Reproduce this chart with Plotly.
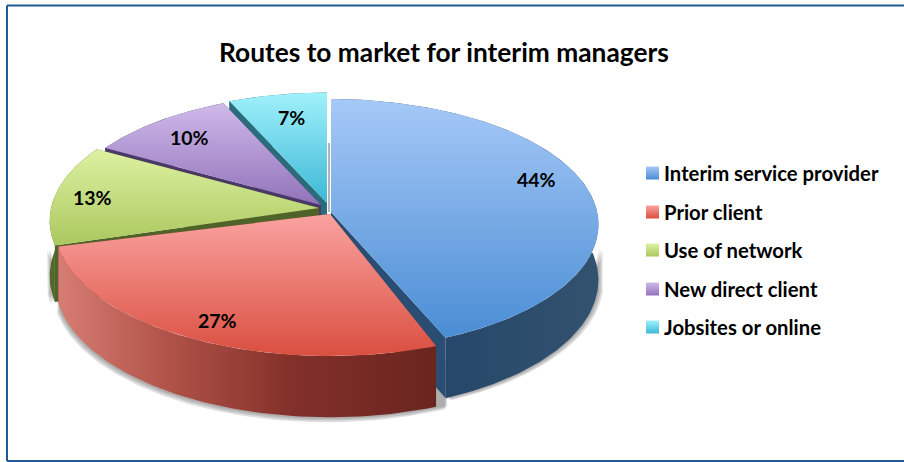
import math

import plotly.graph_objects as go

# --- data ---
categories = ["Interim service provider", "Prior client", "Use of network",
              "New direct client", "Jobsites or online"]
shares = [43.6, 26.7, 12.9, 10.1, 6.7]
title = "Routes to market for interim managers"

# --- look of the tilted pie, in page pixels ---
RX, RY, TILT, DEPTH = 268, 125, 0.10, 55
APEX = [(331, 212), (330, 214), (319, 208), (321, 205), (327, 203)]
SCALE = [0.993, 1.02, 1.0, 0.97, 0.97]
TURN = [0, 2.5, 0, 0, 0]
LABEL_POS = [(536, 179), (217, 320), (92, 197), (189, 137), (291, 117)]
LEGEND_Y = [173, 212, 250, 289, 327]
# gradient stops run bottom to top because the y axis is reversed
TOP = [("#4A8DD4", "#A6C9F7"), ("#DA4F40", "#FAA3A0"), ("#ABC85E", "#DDF1A2"),
       ("#9272BA", "#CFBAEA"), ("#3DB8D6", "#A0F1FB")]
SIDE = [
    [[0, "#1E3F66"], [1, "#33526F"]],
    [[0, "#D67D73"], [0.28, "#B2544A"], [0.62, "#823029"], [1, "#6A251F"]],
    [[0, "#55682A"], [1, "#4C5E24"]],
    [[0, "#4A3866"], [1, "#4A3866"]],
    [[0, "#2A6C7C"], [1, "#2A6C7C"]],
]
WALL = ["#2A4E73", "#8A3A32", "#4F6227", "#4A3866", "#2A6C7C"]


def project(i, angle, radius=1.0, z=0.0):
    u = radius * SCALE[i] * math.sin(math.radians(angle))
    v = radius * SCALE[i] * math.cos(math.radians(angle))
    d = 1 + TILT * v
    return APEX[i][0] + RX * u / d, APEX[i][1] - RY * v / d + DEPTH * z / d


def arc(i, a0, a1, z=0.0):
    n = max(int(abs(a1 - a0)), 2)
    pts = [project(i, a0 + (a1 - a0) * k / n, z=z) for k in range(n + 1)]
    return [p[0] for p in pts], [p[1] for p in pts]


def poly(xs, ys, colorscale=None, orientation="vertical", color=None):
    kw = dict(x=xs, y=ys, mode="lines", fill="toself", line=dict(width=0),
              hoverinfo="skip", showlegend=False)
    if colorscale:
        kw["fillgradient"] = dict(type=orientation, colorscale=colorscale)
    else:
        kw["fillcolor"] = color
    return go.Scatter(**kw)


total = sum(shares)
edges = [0]
for s in shares:
    edges.append(edges[-1] + s / total * 360)

fig = go.Figure()

# soft drop shadow below the rim of the front slices
for i, a0, a1, dx, dy in [(0, 100, edges[1], 5, 2), (1, edges[1], edges[2], -3, 5),
                          (2, edges[2], edges[2] + 5, -4, 2)]:
    for step in (1.0, 0.66, 0.33):
        xs, ys = arc(i, a0, a1, z=0.25)
        xb, yb = arc(i, a1, a0, z=1)
        fig.add_trace(poly([x + dx * step for x in xs + xb],
                           [y + dy * step for y in ys + yb],
                           color="rgba(90,90,90,0.20)"))

# thin grey seam left of the blue slice
fig.add_trace(go.Scatter(x=[329, 329], y=[143, 212], mode="lines",
                         line=dict(color="#B4B4B4", width=2),
                         hoverinfo="skip", showlegend=False))

# back to front, each slice drawn walls, rim, then top
for i in [4, 3, 2, 0, 1]:
    a0, a1 = edges[i] + TURN[i], edges[i + 1] + TURN[i]
    apex = APEX[i]
    for a in (a0, a1):
        rim = project(i, a)
        rim_low = project(i, a, z=1)
        low = project(i, 0, radius=0, z=1)
        fig.add_trace(poly([apex[0], rim[0], rim_low[0], low[0]],
                           [apex[1], rim[1], rim_low[1], low[1]],
                           color=WALL[i]))
    xs, ys = arc(i, a0, a1)
    xb, yb = arc(i, a1, a0, z=1)
    fig.add_trace(poly(xs + xb, ys + yb, SIDE[i], "horizontal"))
    fig.add_trace(poly([apex[0]] + xs, [apex[1]] + ys,
                       [[0, TOP[i][0]], [1, TOP[i][1]]]))

# legend swatches with the same top gradient as the slices
for i, y in enumerate(LEGEND_Y):
    fig.add_trace(poly([646, 659, 659, 646], [y - 6.5, y - 6.5, y + 6.5, y + 6.5],
                       [[0, TOP[i][0]], [1, TOP[i][1]]]))

for pos, s in zip(LABEL_POS, shares):
    fig.add_annotation(x=pos[0], y=pos[1], text=f"{round(s)}%", showarrow=False,
                       font=dict(size=19.5, color="#000000", family="Lato", weight="bold"))
for name, y in zip(categories, LEGEND_Y):
    fig.add_annotation(x=662, y=y, text=name, showarrow=False, xanchor="left",
                       font=dict(size=20.3, color="#000000", family="Lato", weight="bold"))
fig.add_annotation(x=443.5, y=52, text=title, showarrow=False,
                   font=dict(size=26.3, color="#000000", family="Lato", weight="bold"))

# frame around the chart, open on the right
for x0, y0, x1, y1 in [(7, 5.5, 904, 5.5), (7, 5.5, 7, 461), (7, 461, 904, 461)]:
    fig.add_shape(type="line", x0=x0, y0=y0, x1=x1, y1=y1,
                  line=dict(color="#1F5A96", width=2))

fig.update_layout(
    width=904, height=462,
    margin=dict(l=0, r=0, t=0, b=0),
    paper_bgcolor="#FFFFFF", plot_bgcolor="#FFFFFF",
    showlegend=False,
    xaxis=dict(range=[0, 904], visible=False, fixedrange=True),
    yaxis=dict(range=[462, 0], visible=False, fixedrange=True),
)
# drop the browser's default page margin so the figure fills the window
fig.write_html("out.html", config={"displayModeBar": False},
               post_script="document.body.style.margin='0';document.body.style.overflow='hidden';")
